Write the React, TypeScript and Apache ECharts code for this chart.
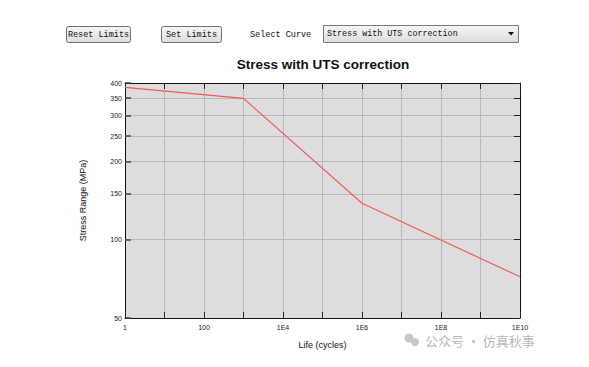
import React, { useEffect, useRef } from "react";
import * as echarts from "echarts";

// Data (life in cycles, stress range in MPa)
const lifeCycles = [1, 1000, 1e6, 1e10];
const stressRange = [385, 349, 138, 72];

const xTickValues = [1, 10, 100, 1e3, 1e4, 1e5, 1e6, 1e7, 1e8, 1e9, 1e10];
const xLabelValues = [1, 100, 1e4, 1e6, 1e8, 1e10];
const yTickValues = [50, 100, 150, 200, 250, 300, 350, 400];

const titleText = "Stress with UTS correction";
const xName = "Life (cycles)";
const yName = "Stress Range (MPa)";
const buttonLabels = ["Reset Limits", "Set Limits"];
const selectLabel = "Select Curve";
const selectValue = "Stress with UTS correction";
const watermark = "公众号 · 仿真秋事";

const fmtX = (v: number) => {
  const e = Math.round(Math.log10(v));
  return e < 4 ? String(Math.round(v)) : "1E" + e;
};

export default function App() {
  const ref = useRef<HTMLDivElement>(null);
  useEffect(() => {
    document.body.style.margin = "0";
    const chart = echarts.init(ref.current!, null, { renderer: "svg" });
    const mono = "'Liberation Mono', 'DejaVu Sans Mono', monospace";
    const axisCommon = {
      type: "log" as const,
      logBase: 10,
      axisLine: { show: true, onZero: false, lineStyle: { color: "#111", width: 1 } },
    };
    const btnGrad = new echarts.graphic.LinearGradient(0, 0, 0, 1, [
      { offset: 0, color: "#f6f6f6" },
      { offset: 1, color: "#dcdcdc" },
    ]);
    chart.setOption({
      animation: false,
      backgroundColor: "#ffffff",
      title: {
        text: titleText,
        left: 318,
        textAlign: "center",
        top: 52,
        textStyle: { fontFamily: "Liberation Sans, Arial", fontWeight: "bold", fontSize: 13.5, color: "#111" },
      },
      grid: {
        left: 125,
        right: 69,
        top: 83,
        bottom: 49,
        show: true,
        backgroundColor: "#dddddd",
        borderWidth: 0,
      },
      xAxis: [
        {
          ...axisCommon,
          position: "bottom",
          min: 1,
          max: 1e10,
          name: xName,
          nameLocation: "middle",
          nameGap: 22,
          nameTextStyle: { fontFamily: "Liberation Sans, Arial", fontSize: 9, color: "#111" },
          axisTick: { show: true, inside: true, length: 6, customValues: xTickValues, lineStyle: { color: "#222" } },
          axisLabel: {
            customValues: xLabelValues,
            formatter: fmtX,
            fontFamily: "Liberation Sans, Arial",
            fontSize: 7,
            color: "#222",
            margin: 6,
          },
          splitLine: { show: true, lineStyle: { color: "#b8b8b8", width: 1 } },
        },
        {
          ...axisCommon,
          position: "top",
          min: 1,
          max: 1e10,
          axisTick: { show: true, inside: true, length: 6, customValues: xTickValues, lineStyle: { color: "#222" } },
          axisLabel: { show: false },
          splitLine: { show: false },
        },
      ],
      yAxis: [
        {
          ...axisCommon,
          position: "left",
          min: 50,
          max: 400,
          name: yName,
          nameLocation: "middle",
          nameGap: 38,
          nameTextStyle: { fontFamily: "Liberation Sans, Arial", fontSize: 9, color: "#111" },
          axisTick: { show: true, inside: true, length: 6, customValues: yTickValues, lineStyle: { color: "#444", width: 1.5 } },
          axisLabel: {
            customValues: yTickValues,
            fontFamily: "Liberation Sans, Arial",
            fontSize: 7,
            color: "#222",
            margin: 3,
          },
          splitLine: { show: true, lineStyle: { color: "#b8b8b8", width: 1 } },
        },
        {
          ...axisCommon,
          position: "right",
          min: 50,
          max: 400,
          axisTick: { show: true, inside: true, length: 6, customValues: yTickValues, lineStyle: { color: "#222" } },
          axisLabel: { show: false },
          splitLine: { show: false },
        },
      ],
      series: [
        {
          type: "line",
          xAxisIndex: 0,
          yAxisIndex: 0,
          data: lifeCycles.map((x, i) => [x, stressRange[i]]),
          symbol: "none",
          lineStyle: { color: "#f05a5a", width: 1.2 },
          z: 5,
        },
      ],
      graphic: [
        {
          type: "rect",
          shape: { x: 66.5, y: 26.5, width: 64, height: 16, r: 2 },
          style: { fill: btnGrad, stroke: "#707070", lineWidth: 1 },
        },
        {
          type: "text",
          x: 98.5,
          y: 34.5,
          style: { text: buttonLabels[0], font: `8.5px ${mono}`, fill: "#111", align: "center", verticalAlign: "middle" },
        },
        {
          type: "rect",
          shape: { x: 161.5, y: 26.5, width: 60, height: 16, r: 2 },
          style: { fill: btnGrad, stroke: "#707070", lineWidth: 1 },
        },
        {
          type: "text",
          x: 191.5,
          y: 34.5,
          style: { text: buttonLabels[1], font: `8.5px ${mono}`, fill: "#111", align: "center", verticalAlign: "middle" },
        },
        {
          type: "text",
          x: 250,
          y: 34.5,
          style: { text: selectLabel, font: `8.5px ${mono}`, fill: "#111", align: "left", verticalAlign: "middle" },
        },
        {
          type: "rect",
          shape: { x: 323.5, y: 25.5, width: 195, height: 17 },
          style: { fill: btnGrad, stroke: "#7a7a7a", lineWidth: 1 },
        },
        {
          type: "text",
          x: 327,
          y: 34,
          style: { text: selectValue, font: `8.4px ${mono}`, fill: "#111", align: "left", verticalAlign: "middle" },
        },
        {
          type: "polygon",
          shape: { points: [[508, 32], [514, 32], [511, 35.5]] },
          style: { fill: "#111" },
        },
        {
          type: "circle",
          shape: { cx: 409, cy: 338, r: 4.5 },
          style: { fill: "#c8c8c8" },
          z: 100,
        },
        {
          type: "circle",
          shape: { cx: 415, cy: 342, r: 4 },
          style: { fill: "#c8c8c8" },
          z: 100,
        },
        {
          type: "text",
          x: 425,
          y: 340,
          style: {
            text: watermark,
            font: "13px 'Noto Sans CJK SC', sans-serif",
            fill: "rgba(170,170,170,0.85)",
            align: "left",
            verticalAlign: "middle",
          },
          z: 100,
        },
      ],
    });
    return () => chart.dispose();
  }, []);
  return (
    <div
      ref={ref}
      style={{ position: "fixed", left: 0, top: 0, width: 589, height: 367 }}
    />
  );
}
